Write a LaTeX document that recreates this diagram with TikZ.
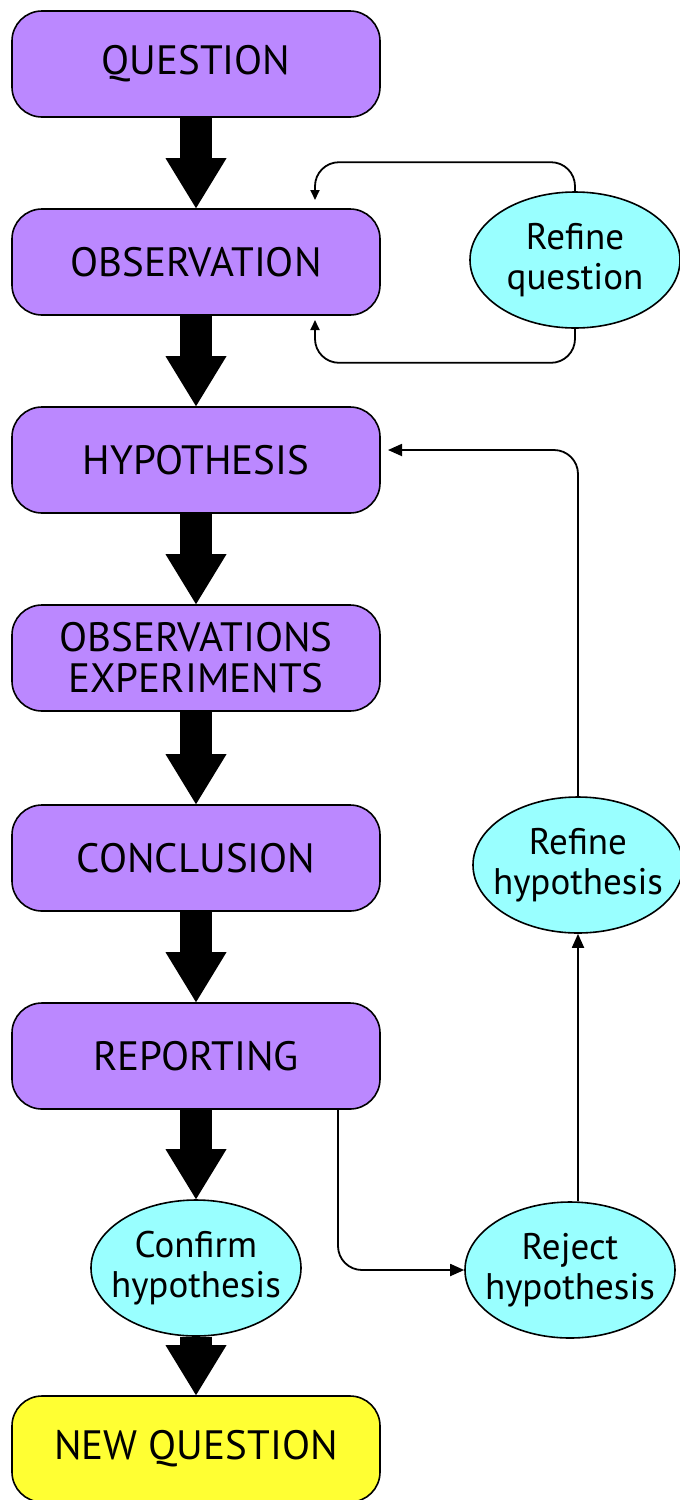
\documentclass[tikz,border=0pt]{standalone}
\usepackage{fontspec}
\setmainfont{PT Sans}
\usetikzlibrary{arrows.meta,shapes.geometric,calc}
\definecolor{boxpurple}{HTML}{BB88FF}
\definecolor{ellcyan}{HTML}{99FFFF}
\definecolor{boxyellow}{HTML}{FFFF33}
\tikzset{
  stagebox/.style={draw=black, line width=0.8pt, fill=boxpurple, rounded corners=15pt,
    minimum width=184pt, minimum height=53pt, inner sep=0pt, align=center,
    font=\fontsize{20.5}{20.5}\selectfont},
  finalbox/.style={stagebox, fill=boxyellow},
  bubble/.style={draw=black, line width=0.8pt, fill=ellcyan, ellipse,
    minimum width=105pt, minimum height=68pt, inner xsep=-8pt, inner ysep=0pt, align=center,
    font=\fontsize{18.5}{20}\selectfont},
  bigarrow/.style={line width=16pt, -{Triangle[width=30.5pt,length=25pt,line width=0pt]}},
  thinarrow/.style={line width=0.9pt, rounded corners=12pt, -{Triangle[width=6pt,length=7pt]}},
  smallarrow/.style={line width=0.9pt, rounded corners=12pt, -{Triangle[width=4.5pt,length=5pt]}}
}
\begin{document}
\begin{tikzpicture}[x=0.5pt,y=-0.5pt]
\useasboundingbox (0,0) rectangle (680,1500);
\node[stagebox] (q)    at (196,64)   {QUESTION};
\node[stagebox] (obs)  at (196,262)  {OBSERVATION};
\node[stagebox] (hyp)  at (196,460)  {HYPOTHESIS};
\node[stagebox] (exp)  at (196,658)  {OBSERVATIONS\\EXPERIMENTS};
\node[stagebox] (con)  at (196,858)  {CONCLUSION};
\node[stagebox] (rep)  at (196,1056) {REPORTING};
\node[finalbox] (newq) at (196,1449) {NEW QUESTION};

\node[bubble] (rq)  at (575,260)  {Refine\\question};
\node[bubble] (rfh) at (578,865)  {Refine\\hypothesis};
\node[bubble] (cfh) at (196,1268) {Confirm\\hypothesis};
\node[bubble] (rjh) at (570,1270) {Reject\\hypothesis};

\draw[bigarrow] (q.south) -- (obs.north);
\draw[bigarrow] (obs.south) -- (hyp.north);
\draw[bigarrow] (hyp.south) -- (exp.north);
\draw[bigarrow] (exp.south) -- (con.north);
\draw[bigarrow] (con.south) -- (rep.north);
\draw[bigarrow] (rep.south) -- (cfh.north);
\draw[bigarrow] (cfh.south) -- (newq.north);

\coordinate (qin)  at (315,200);
\coordinate (qout) at (315,320);
\coordinate (hin)  at (388,450);
\coordinate (rout) at (338,1109);

\draw[smallarrow] (rq.north) -- ++(0,-29) -| (qin);
\draw[smallarrow] (rq.south) -- ++(0,34) -| (qout);
\draw[thinarrow] (rout) |- (rjh.west);
\draw[thinarrow] (rjh.north -| rfh.south) -- (rfh.south);
\draw[thinarrow] (rfh.north) |- (hin);
\end{tikzpicture}
\end{document}
